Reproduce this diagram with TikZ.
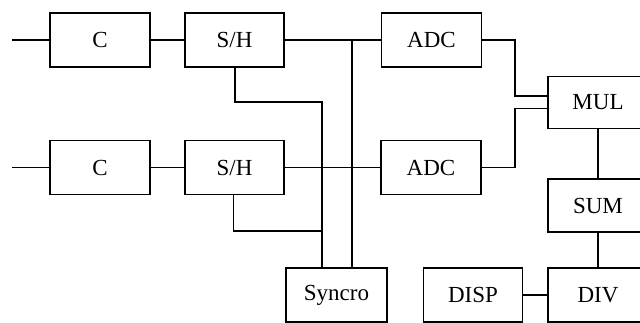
\documentclass[tikz,border=0pt]{standalone}
\usepackage{fontspec}
\setmainfont{Liberation Serif}
\begin{document}
\begin{tikzpicture}[x=1pt,y=-1pt,line width=1.1pt,
  blk/.style={draw,rectangle,inner sep=0pt,minimum width=100pt,minimum height=54pt,
    font=\fontsize{23}{26}\selectfont}]
\useasboundingbox (0,0) rectangle (640,323);
% boxes
\node[blk] (c1) at (100,40) {C};
\node[blk,minimum width=99pt] (sh1) at (234.5,40) {S/H};
\node[blk] (adc1) at (431.5,40) {ADC};
\node[blk] (c2) at (100,167.5) {C};
\node[blk,minimum width=99pt] (sh2) at (234.5,167.5) {S/H};
\node[blk] (adc2) at (431,167.5) {ADC};
\node[blk,minimum height=52pt] (mul) at (598,102.5) {MUL};
\node[blk,minimum height=53pt] (sum) at (598,205.5) {SUM};
\node[blk] (div) at (598,295) {DIV};
\node[blk,minimum width=99.5pt] (disp) at (473,295) {DISP};
\node[blk,minimum width=101pt] (syncro) at (336.5,295) {Syncro};
% helper coordinates
\coordinate (in1) at (12,40);
\coordinate (in2) at (12,167.5);
\coordinate (v2) at (352,40);
\coordinate (t1) at (322,102);
\coordinate (t2) at (322,231);
\coordinate (j) at (515,0);
\coordinate (m1) at (548,96);
\coordinate (m2) at (548,108.3);
% connectors
\draw (in1) -- (c1.west);
\draw (c1.east) -- (sh1.west);
\draw (sh1.east) -- (adc1.west);
\draw (in2) -- (c2.west);
\draw (c2.east) -- (sh2.west);
\draw (sh2.east) -- (adc2.west);
\draw (v2) -- (syncro.north -| v2);
\draw (sh1.south -| 235,0) |- (t1) -- (syncro.north -| t1);
\draw (sh2.south -| 233.5,0) |- (t2);
\draw (adc1.east) -- (adc1.east -| j) |- (m1);
\draw (adc2.east) -- (adc2.east -| j) |- (m2);
\draw (mul.south) -- (sum.north);
\draw (sum.south) -- (div.north);
\draw (disp.east) -- (div.west);
\end{tikzpicture}
\end{document}
